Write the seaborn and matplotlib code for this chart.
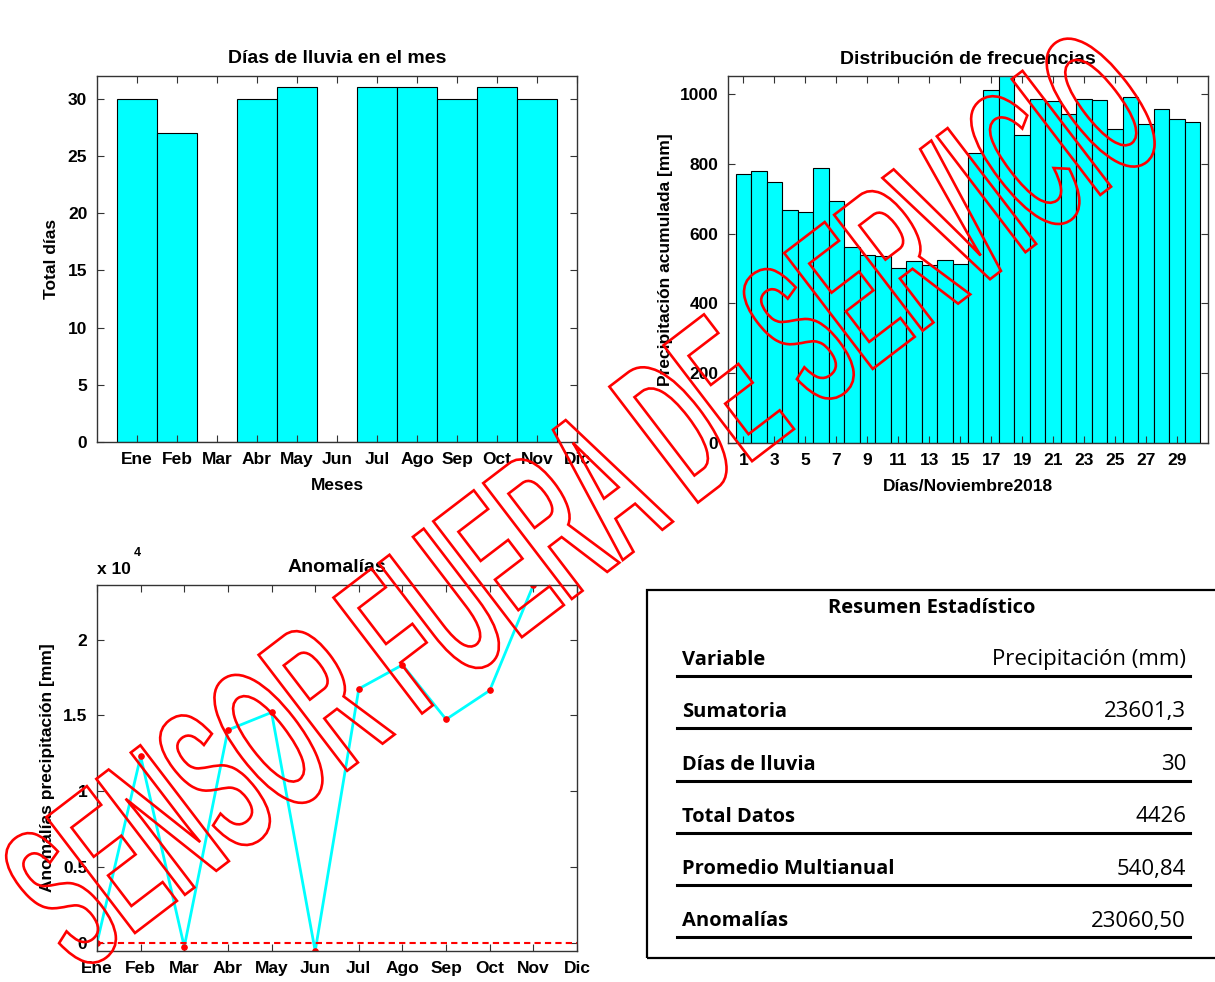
import numpy as np
import matplotlib
matplotlib.use("Agg")
import matplotlib.pyplot as plt
import seaborn as sns
from matplotlib.textpath import TextPath
from matplotlib.patches import PathPatch, Rectangle
from matplotlib.font_manager import FontProperties
from matplotlib.transforms import Affine2D
from matplotlib.lines import Line2D
from matplotlib.ticker import FuncFormatter

# data
meses = ["Ene", "Feb", "Mar", "Abr", "May", "Jun", "Jul", "Ago", "Sep", "Oct", "Nov", "Dic"]
dias_lluvia = [30, 27, 0, 30, 31, 0, 31, 31, 30, 31, 30]

dias_nov = list(range(1, 31))
precip_dia = [771, 781, 747, 667, 661, 789, 693, 563, 539, 537,
              502, 523, 511, 525, 514, 832, 1011, 1060, 882, 985,
              980, 944, 987, 982, 901, 991, 915, 956, 928, 921]

anomalias = [0, 12300, -263, 14035, 15197, -540.84, 16754, 18333, 14737, 16645, 23601.3]

tabla_var = ["Variable", "Sumatoria", "Días de lluvia", "Total Datos",
             "Promedio Multianual", "Anomalías"]
tabla_val = ["Precipitación (mm)", "23601,3", "30", "4426", "540,84", "23060,50"]

W, H = 1215, 982

plt.rcParams["font.family"] = ["Liberation Sans", "DejaVu Sans"]
plt.rcParams["font.weight"] = "bold"
plt.rcParams["axes.labelweight"] = "bold"
plt.rcParams["axes.titleweight"] = "bold"

fig = plt.figure(figsize=(W / 100, H / 100), dpi=100)


def px(x0, y0, x1, y1):
    return [x0 / W, 1 - y1 / H, (x1 - x0) / W, (y1 - y0) / H]


def style_axes(ax):
    for s in ax.spines.values():
        s.set_color("#333333")
        s.set_linewidth(1.0)
    ax.tick_params(direction="in", length=5, top=True, right=True,
                   labelsize=12.5, color="#333333", pad=7)
    for lab in ax.get_xticklabels() + ax.get_yticklabels():
        lab.set_fontweight("bold")


# graph 1 - dias de lluvia
ax1 = fig.add_axes(px(97, 76, 577, 442))
sns.barplot(x=meses[:11], y=dias_lluvia, color="cyan", saturation=1,
            edgecolor="black", linewidth=0.8, width=1, ax=ax1)
ax1.set_xticks(range(12))
ax1.set_xticklabels(meses)
ax1.set_xlim(-1, 11)
ax1.set_ylim(0, 32)
ax1.set_yticks([0, 5, 10, 15, 20, 25, 30])
ax1.set_title("Días de lluvia en el mes", fontsize=14, pad=9)
ax1.set_xlabel("Meses", fontsize=12.5, labelpad=8)
ax1.set_ylabel("Total días", fontsize=12.5, labelpad=6)
style_axes(ax1)

# graph 2 - distribucion
ax2 = fig.add_axes(px(728, 76, 1208, 443))
sns.barplot(x=dias_nov, y=precip_dia, color="cyan", saturation=1,
            edgecolor="black", linewidth=0.8, width=1, ax=ax2)
ax2.set_xticks(range(0, 30, 2))
ax2.set_xticklabels([str(d) for d in dias_nov[::2]])
ax2.set_xlim(-1, 30)
ax2.set_ylim(0, 1052)
ax2.set_yticks([0, 200, 400, 600, 800, 1000])
ax2.set_title("Distribución de frecuencias", fontsize=14, pad=9)
ax2.set_xlabel("Días/Noviembre2018", fontsize=12.5, labelpad=8)
ax2.set_ylabel("Precipitación acumulada [mm]", fontsize=12.5, labelpad=5)
style_axes(ax2)

# graph 3 - anomalias
ax3 = fig.add_axes(px(97, 585, 577, 951))
xpos = np.arange(1, len(anomalias) + 1)
sns.lineplot(x=xpos, y=anomalias, color="cyan", linewidth=2, ax=ax3,
             marker="o", markersize=4, markerfacecolor="red",
             markeredgecolor="red")
ax3.axhline(0, color="red", linestyle="--", linewidth=1.5, dashes=(3, 2))
ax3.set_xticks(range(1, 13))
ax3.set_xticklabels(meses)
ax3.set_xlim(1, 12)
ax3.set_ylim(min(anomalias), max(anomalias))
ax3.set_yticks([0, 5000, 10000, 15000, 20000])
ax3.yaxis.set_major_formatter(FuncFormatter(lambda v, p: f"{v / 1e4:g}"))
ax3.set_title("Anomalías", fontsize=14, pad=9)
ax3.set_ylabel("Anomalías precipitación [mm]", fontsize=12.5, labelpad=6)
ax3.set_xlabel("")
style_axes(ax3)
fig.text(97 / W, 1 - 569 / H, "x 10", fontsize=12.5, fontweight="bold",
         ha="left", va="center")
fig.text(134 / W, 1 - 553 / H, "4", fontsize=9, fontweight="bold",
         ha="left", va="center")

# tabla resumen
fig.patches.append(Rectangle((647 / W, 1 - 958 / H), 600 / W, 368 / H,
                             transform=fig.transFigure, fill=False,
                             edgecolor="black", linewidth=1.6))
tfont = ["Open Sans", "DejaVu Sans"]
fig.text(932 / W, 1 - 608 / H, "Resumen Estadístico", ha="center", va="center",
         fontsize=14.5, fontweight="bold", family=tfont)
row_y = [660, 712, 765, 817, 869, 921]
for name, val, yy in zip(tabla_var, tabla_val, row_y):
    fig.text(682 / W, 1 - yy / H, name, ha="left", va="center",
             fontsize=14.5, fontweight="bold", family=tfont)
    fig.text(1186 / W, 1 - yy / H, val, ha="right", va="center",
             fontsize=16, fontweight="normal", family=tfont)
    ly = 1 - (yy + 16) / H
    fig.lines.append(Line2D([677 / W, 1190 / W], [ly, ly], transform=fig.transFigure,
                            color="black", linewidth=2.2))

# marca de agua
fp = FontProperties(family="Liberation Sans", weight="bold")
tp = TextPath((0, 0), "SENSOR FUERA DE SERVICIO", size=1, prop=fp)
bb = tp.get_extents()
sx = 1303 / (bb.width - 0.72)
sy = 212
tr = Affine2D().scale(sx, sy).rotate_deg(37.4).translate(80, 7)
wm = PathPatch(tp, transform=tr, facecolor="none", edgecolor="red",
               linewidth=1.9, zorder=20)
fig.patches.append(wm)

fig.savefig("out.png", dpi=100)
